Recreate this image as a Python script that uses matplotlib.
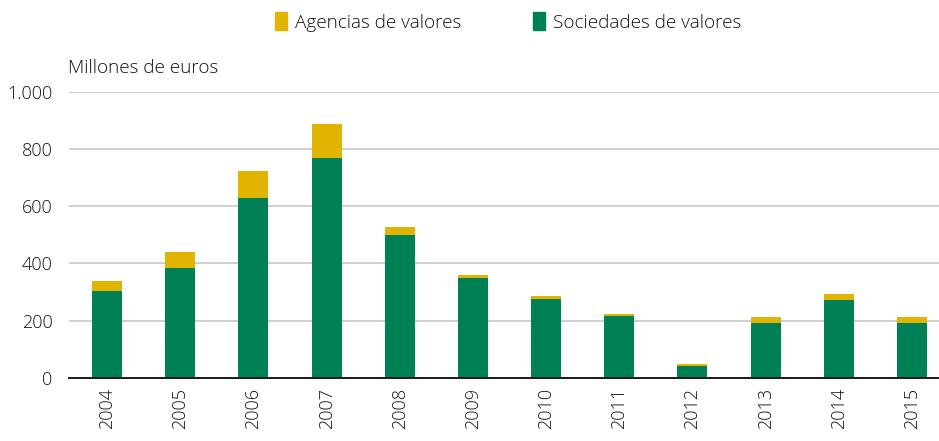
import numpy as np
import matplotlib
matplotlib.use("Agg")
import matplotlib.pyplot as plt
from matplotlib.patches import Patch

years = ["2004", "2005", "2006", "2007", "2008", "2009",
         "2010", "2011", "2012", "2013", "2014", "2015"]
sociedades = [305, 385, 629, 769, 500, 350, 277, 218, 43, 193, 273, 193]
agencias = [35, 56, 94, 119, 28, 11, 10, 7, 7, 21, 21, 21]

GREEN = "#008055"
YELLOW = "#E0B400"

plt.rcParams["font.family"] = ["Open Sans", "DejaVu Sans"]

fig = plt.figure(figsize=(9.39, 4.41), dpi=100)
ax = fig.add_axes([0.0735, 0.1429, 0.9265, 0.6496])

x = np.arange(len(years))
ax.bar(x, sociedades, width=0.41, color=GREEN, zorder=2)
ax.bar(x, agencias, width=0.41, bottom=sociedades, color=YELLOW, zorder=2)

ax.set_xlim(-0.52, 11.37)
ax.set_ylim(0, 1000)
ax.set_yticks([0, 200, 400, 600, 800, 1000])
ax.set_yticklabels(["0", "200", "400", "600", "800", "1.000"])
ax.set_xticks(x)
ax.set_xticklabels(years, rotation=90)
ax.tick_params(axis="both", length=0, labelsize=13, colors="#111111")
ax.tick_params(axis="y", pad=12)
ax.tick_params(axis="x", pad=7)
for lab in ax.get_xticklabels() + ax.get_yticklabels():
    lab.set_fontweight("light")

ax.grid(axis="y", color="#cccccc", lw=1.3, zorder=0)
for s in ["top", "right", "left"]:
    ax.spines[s].set_visible(False)
ax.spines["bottom"].set_color("#1a1a1a")
ax.spines["bottom"].set_linewidth(1.4)
ax.spines["bottom"].set_zorder(3)

fig.text(0.0725, 0.826, "Millones de euros", fontsize=13.6,
         fontweight="light", color="#111111", va="bottom")

handles = [Patch(color=YELLOW, label="Agencias de valores"),
           Patch(color=GREEN, label="Sociedades de valores")]
leg = fig.legend(handles=handles, loc="center", bbox_to_anchor=(0.541, 0.95),
                 ncol=2, frameon=False, fontsize=13.6, handlelength=0.65,
                 handleheight=1.1, handletextpad=0.4, columnspacing=3.8)
for t in leg.get_texts():
    t.set_fontweight("light")
    t.set_color("#111111")

fig.savefig("out.png", dpi=100)
